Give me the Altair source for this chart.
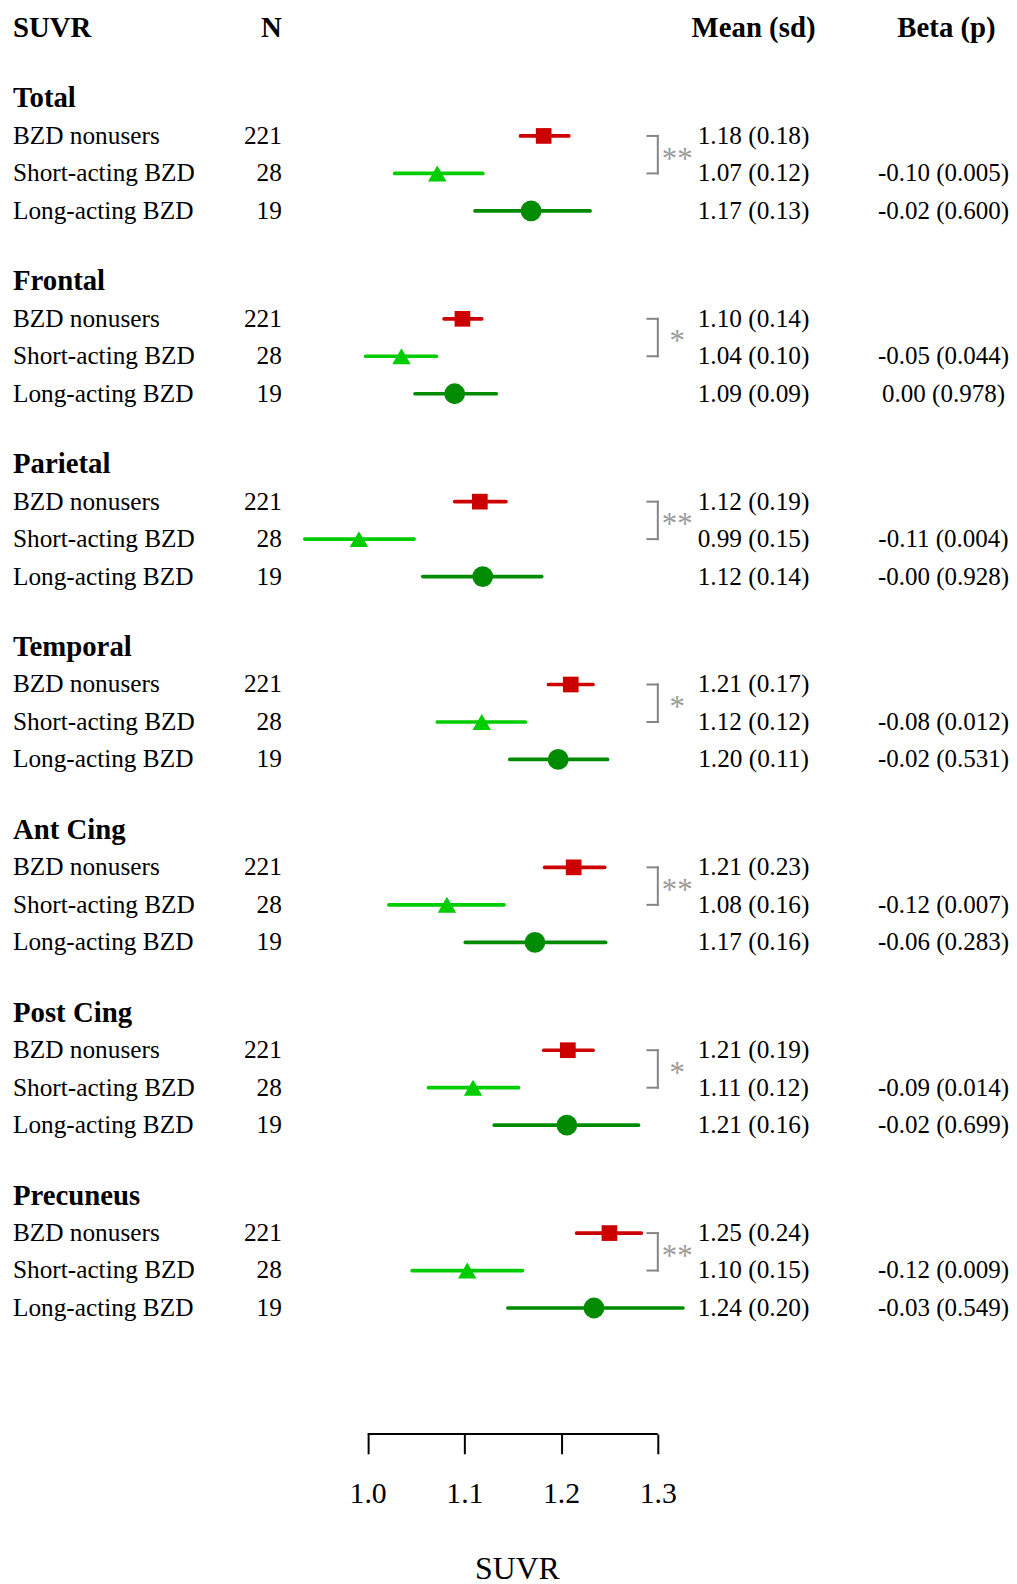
import altair as alt
import pandas as pd

# ---------------- data ----------------
regions = ["Total", "Frontal", "Parietal", "Temporal", "Ant Cing", "Post Cing", "Precuneus"]
groups = ["BZD nonusers", "Short-acting BZD", "Long-acting BZD"]
n_vals = [221, 28, 19]

# plotted estimates and interval ends
est = [
    [1.182, 1.072, 1.169],
    [1.098, 1.035, 1.090],
    [1.116, 0.991, 1.119],
    [1.210, 1.118, 1.197],
    [1.213, 1.082, 1.173],
    [1.207, 1.109, 1.206],
    [1.250, 1.103, 1.234],
]
lo = [
    [1.158, 1.028, 1.111],
    [1.079, 0.998, 1.049],
    [1.090, 0.935, 1.057],
    [1.187, 1.072, 1.147],
    [1.183, 1.022, 1.101],
    [1.182, 1.063, 1.131],
    [1.216, 1.046, 1.145],
]
hi = [
    [1.208, 1.119, 1.230],
    [1.118, 1.071, 1.133],
    [1.143, 1.048, 1.180],
    [1.233, 1.163, 1.248],
    [1.245, 1.141, 1.246],
    [1.233, 1.156, 1.280],
    [1.283, 1.160, 1.326],
]
mean_vals = [
    [1.18, 1.07, 1.17],
    [1.10, 1.04, 1.09],
    [1.12, 0.99, 1.12],
    [1.21, 1.12, 1.20],
    [1.21, 1.08, 1.17],
    [1.21, 1.11, 1.21],
    [1.25, 1.10, 1.24],
]
sd_vals = [
    [0.18, 0.12, 0.13],
    [0.14, 0.10, 0.09],
    [0.19, 0.15, 0.14],
    [0.17, 0.12, 0.11],
    [0.23, 0.16, 0.16],
    [0.19, 0.12, 0.16],
    [0.24, 0.15, 0.20],
]
beta_txt = [
    ["-0.10 (0.005)", "-0.02 (0.600)"],
    ["-0.05 (0.044)", "0.00 (0.978)"],
    ["-0.11 (0.004)", "-0.00 (0.928)"],
    ["-0.08 (0.012)", "-0.02 (0.531)"],
    ["-0.12 (0.007)", "-0.06 (0.283)"],
    ["-0.09 (0.014)", "-0.02 (0.699)"],
    ["-0.12 (0.009)", "-0.03 (0.549)"],
]
sig = ["**", "*", "**", "*", "**", "*", "**"]
header_labels = ["SUVR", "N", "Mean (sd)", "Beta (p)"]
tick_vals = [1.0, 1.1, 1.2, 1.3]

# ---------------- layout (row units) ----------------
ROW_PX = 37.77
PLOT_H = 1431
PLOT_W = 1009
Y_MAX = PLOT_H / ROW_PX
HEAD = 0.371
ROW0 = 2.246
SEC = 4.88
X0_PX = 362.5      # pixel position of 1.0 inside the plot
PX_PER_UNIT = 975.0

FONT = "Liberation Serif"
colors = ["#CD0000", "#00CD00", "#008B00"]
shapes = ["square", "triangle-up", "circle"]
sizes = [250, 440, 215]

rows = []
for s, reg in enumerate(regions):
    for g, grp in enumerate(groups):
        rows.append(dict(
            region=reg, group=grp, y=ROW0 + SEC * s + g + 1,
            est=est[s][g], lo=lo[s][g], hi=hi[s][g],
            n=str(n_vals[g]),
            msd=f"{mean_vals[s][g]:.2f} ({sd_vals[s][g]:.2f})",
            beta=beta_txt[s][g - 1] if g > 0 else "",
        ))
df = pd.DataFrame(rows)
titles_df = pd.DataFrame({"region": regions, "y": [ROW0 + SEC * s for s in range(len(regions))]})
br_df = pd.DataFrame({
    "y1": [ROW0 + SEC * s + 1 for s in range(len(regions))],
    "y2": [ROW0 + SEC * s + 2 for s in range(len(regions))],
    "ym": [ROW0 + SEC * s + 1.5 for s in range(len(regions))],
    "sig": sig,
})
BR_X = 1.3
BR_X0 = 1.2893
br_df["bx"] = BR_X
br_df["bx0"] = BR_X0
axis_df = pd.DataFrame({"a": [tick_vals[0]], "b": [tick_vals[-1]], "y": [Y_MAX]})

xscale = alt.Scale(domain=[1.0 - X0_PX / PX_PER_UNIT, 1.0 + (PLOT_W - X0_PX) / PX_PER_UNIT],
                   nice=False, zero=False)
yscale = alt.Scale(domain=[0, Y_MAX], nice=False, zero=False, reverse=True)
xaxis = alt.Axis(
    values=tick_vals, format=".1f", domain=False, grid=False,
    tickSize=20, tickWidth=2, tickColor="black",
    labelFont=FONT, labelFontSize=30, labelColor="black", labelPadding=25,
    title="SUVR", titleFont=FONT, titleFontSize=32, titleFontWeight="normal",
    titleColor="black", titlePadding=46, titleX=513,
)
Y = lambda f: alt.Y(f, type="quantitative", scale=yscale, axis=None)

base = alt.Chart(df)
col_enc = alt.Color("group:N", scale=alt.Scale(domain=groups, range=colors), legend=None)

ci = base.mark_rule(strokeWidth=3.7, strokeCap="round").encode(
    x=alt.X("lo:Q", scale=xscale, axis=xaxis),
    x2="hi:Q",
    y=Y("y"),
    color=col_enc,
)
pts = base.mark_point(filled=True, opacity=1).encode(
    x=alt.X("est:Q", scale=xscale, axis=xaxis),
    y=Y("y"),
    color=col_enc,
    shape=alt.Shape("group:N", scale=alt.Scale(domain=groups, range=shapes), legend=None),
    size=alt.Size("group:N", scale=alt.Scale(domain=groups, range=sizes), legend=None),
)

txt = dict(font=FONT, fontSize=25.5, color="black", baseline="middle")
grp_lbl = base.mark_text(align="left", **txt).encode(x=alt.value(5), y=Y("y"), text="group:N")
n_lbl = base.mark_text(align="right", **txt).encode(x=alt.value(276), y=Y("y"), text="n:N")
msd_lbl = base.mark_text(align="center", **txt).encode(x=alt.value(751.5), y=Y("y"), text="msd:N")
beta_lbl = base.mark_text(align="center", font=FONT, fontSize=25.2, color="black",
                          baseline="middle").encode(x=alt.value(943), y=Y("y"), text="beta:N")

bold = dict(font=FONT, fontSize=29, fontWeight="bold", color="black", baseline="middle")
reg_lbl = alt.Chart(titles_df).mark_text(align="left", **bold).encode(
    x=alt.value(5), y=Y("y"), text="region:N")

head_pos = [("left", 5), ("right", 276), ("center", 751.5), ("center", 946)]
heads = []
for lab, (al, px) in zip(header_labels, head_pos):
    heads.append(
        alt.Chart(pd.DataFrame({"t": [lab], "y": [HEAD]})).mark_text(align=al, **bold).encode(
            x=alt.value(px), y=Y("y"), text="t:N")
    )

br_col = "#858585"
br_v = alt.Chart(br_df).mark_rule(strokeWidth=2, color=br_col, strokeCap="square").encode(
    x=alt.X("bx:Q", scale=xscale, axis=xaxis), y=Y("y1"), y2="y2:Q")
br_t = alt.Chart(br_df).mark_rule(strokeWidth=2, color=br_col, strokeCap="square").encode(
    x=alt.X("bx0:Q", scale=xscale, axis=xaxis), x2="bx:Q", y=Y("y1"))
br_b = alt.Chart(br_df).mark_rule(strokeWidth=2, color=br_col, strokeCap="square").encode(
    x=alt.X("bx0:Q", scale=xscale, axis=xaxis), x2="bx:Q", y=Y("y2"))
stars = alt.Chart(br_df).mark_text(font=FONT, fontSize=31, color="#9a9a9a", align="center",
                                   baseline="middle", dy=5).encode(
    x=alt.value(674.5), y=Y("ym"), text="sig:N")

axis_line = alt.Chart(axis_df).mark_rule(strokeWidth=2, color="black").encode(
    x=alt.X("a:Q", scale=xscale, axis=xaxis), x2="b:Q", y=Y("y"))

chart = alt.layer(
    ci, pts, grp_lbl, n_lbl, msd_lbl, beta_lbl, reg_lbl, *heads,
    br_v, br_t, br_b, stars, axis_line,
).properties(
    width=PLOT_W, height=PLOT_H,
    padding={"left": 0, "top": 0, "right": 0, "bottom": 160},
    autosize=alt.AutoSizeParams(type="none"),
).configure_view(stroke=None)

chart.save("out.html", embed_options={"renderer": "svg", "actions": False})
